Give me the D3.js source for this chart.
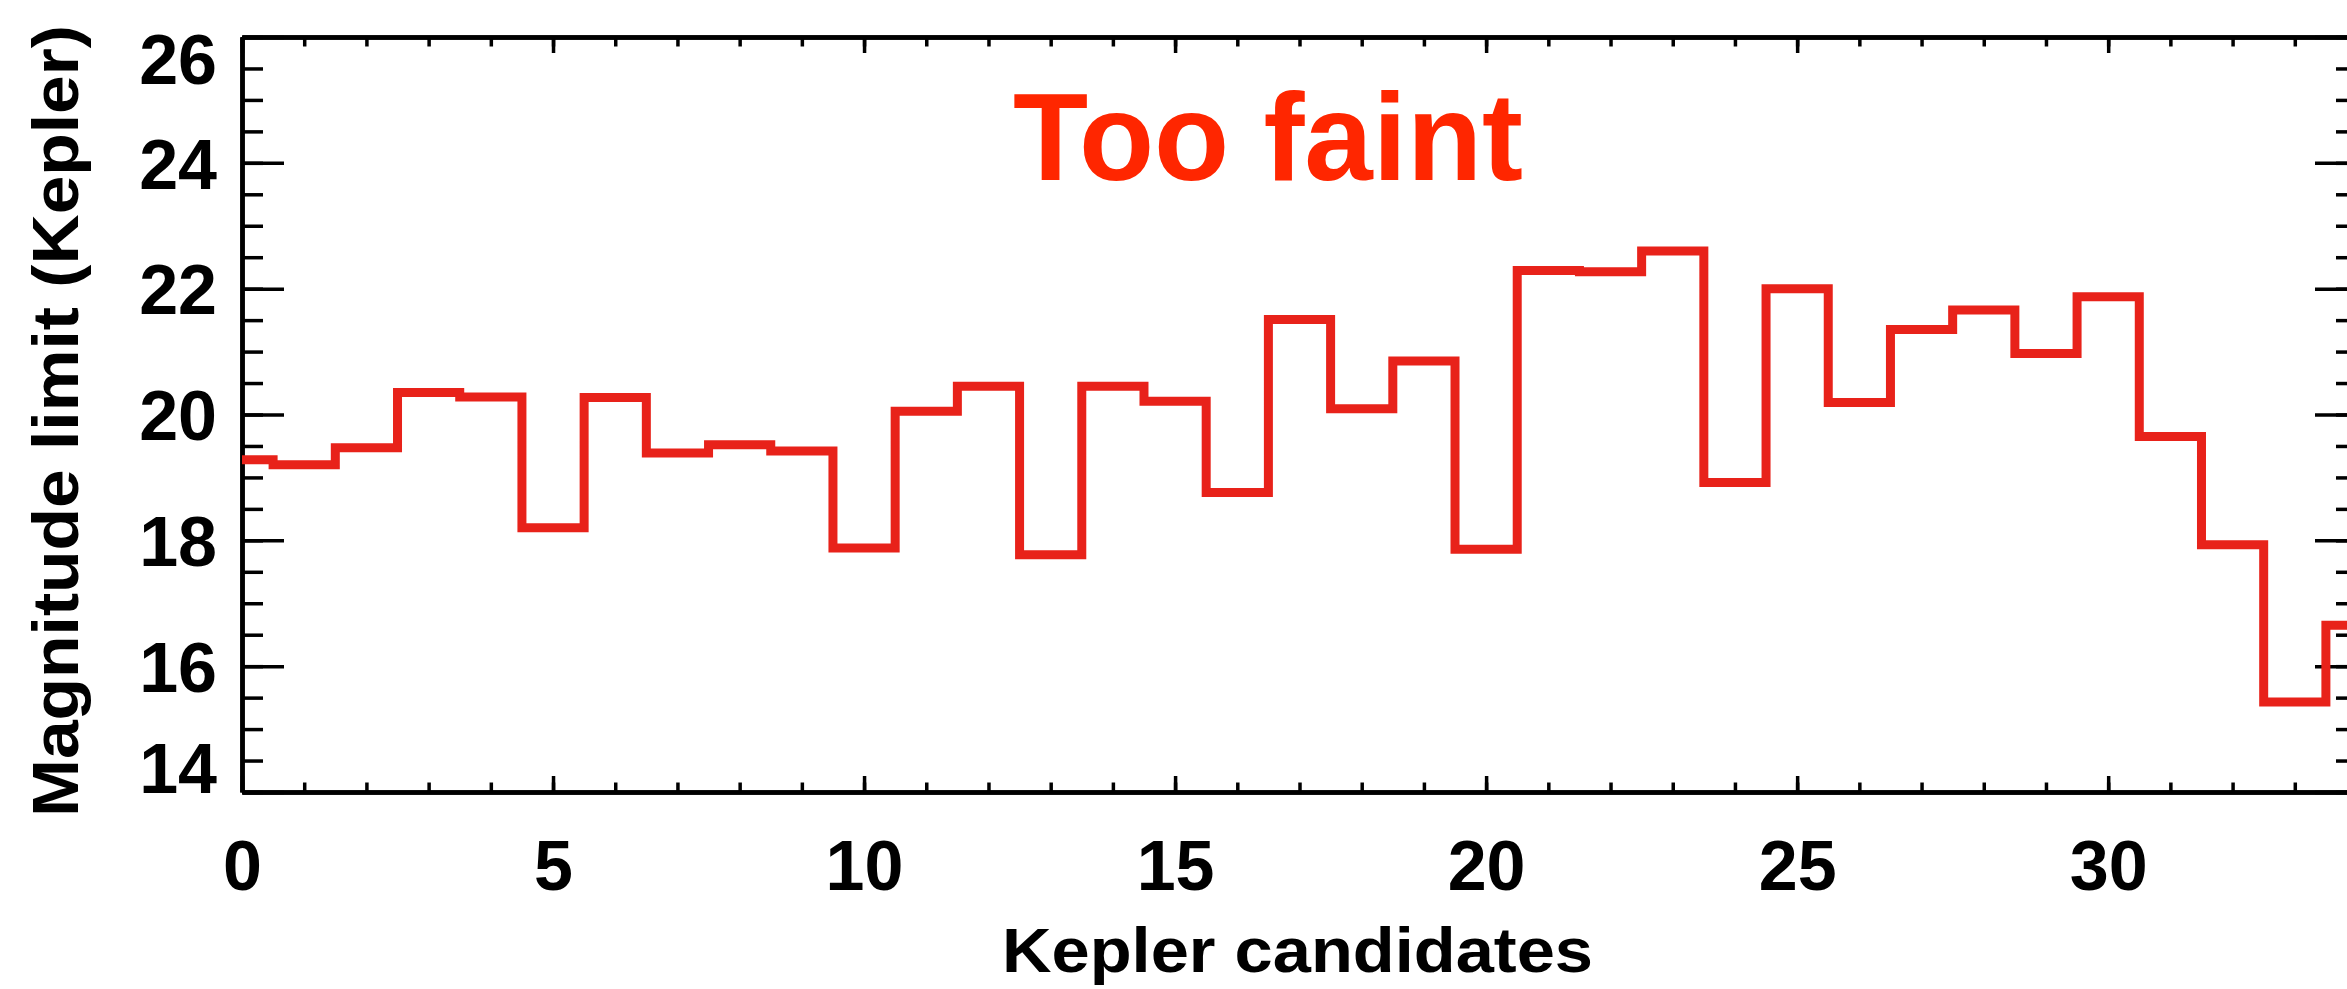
<!DOCTYPE html>
<html>
<head>
<meta charset="utf-8">
<script src="https://cdn.jsdelivr.net/npm/d3@7"></script>
<style>
  body { margin: 0; background: #fff; }
  svg { display: block; }
  .axis path, .axis line { stroke: #000; }
  .axis path { stroke-width: 4.5; }
  .axis line { stroke-width: 3.5; }
  .axis text { font-family: "Liberation Sans", Arial, sans-serif; font-weight: bold; font-size: 70px; fill: #000; }
</style>
</head>
<body>
<script>
// magnitude limit per Kepler candidate
var candidates = d3.range(0, 35)
var magLimit = [19.28, 19.20, 19.47, 20.35, 20.28, 18.20, 20.27, 19.39, 19.52, 19.42,
                17.88, 20.05, 20.45, 17.77, 20.45, 20.21, 18.76, 21.51, 20.09, 20.85,
                17.86, 22.29, 22.27, 22.60, 18.92, 22.00, 20.19, 21.35, 21.66, 20.97,
                21.87, 19.65, 17.93, 15.43, 16.65]
var xTicks = [0, 5, 10, 15, 20, 25, 30]
var xMinor = d3.range(0, 35)
var yTicks = [14, 16, 18, 20, 22, 24, 26]
var yMinor = d3.range(14, 26.01, 0.5)

var W = 2347, H = 989
// note: "top" is taken by window.top, so prefix everything
var plotL = 242, plotR = 2357, plotT = 37, plotB = 792

var svg = d3.select("body").append("svg")
  .attr("width", W)
  .attr("height", H)

var x = d3.scaleLinear().domain([0, 34]).range([plotL, plotR])
var y = d3.scaleLinear().domain([14, 26]).range([plotB, plotT])

// bottom axis, ticks pointing inwards
svg.append("g").attr("class", "axis")
  .attr("transform", "translate(0," + plotB + ")")
  .call(d3.axisBottom(x).tickValues(xMinor).tickSize(-9.5).tickSizeOuter(0).tickFormat(""))
svg.append("g").attr("class", "axis")
  .attr("transform", "translate(0," + plotB + ")")
  .call(d3.axisBottom(x).tickValues(xTicks).tickSize(-16).tickSizeOuter(0).tickPadding(48))

// top axis
svg.append("g").attr("class", "axis")
  .attr("transform", "translate(0," + plotT + ")")
  .call(d3.axisTop(x).tickValues(xMinor).tickSize(-9.5).tickSizeOuter(0).tickFormat(""))
svg.append("g").attr("class", "axis")
  .attr("transform", "translate(0," + plotT + ")")
  .call(d3.axisTop(x).tickValues(xTicks).tickSize(-16).tickSizeOuter(0).tickFormat(""))

// left axis
svg.append("g").attr("class", "axis")
  .attr("transform", "translate(" + plotL + ",0)")
  .call(d3.axisLeft(y).tickValues(yMinor).tickSize(-21).tickSizeOuter(0).tickFormat(""))
var yAx = svg.append("g").attr("class", "axis")
  .attr("transform", "translate(" + plotL + ",0)")
  .call(d3.axisLeft(y).tickValues(yTicks).tickSize(-42).tickSizeOuter(0).tickPadding(25))

// end labels sit inside the frame like in the original
yAx.selectAll(".tick text")
  .attr("dy", function (d) {
    if (d == 26) return "0.66em"
    if (d == 14) return "0.01em"
    return "0.36em"
  })

// right axis
svg.append("g").attr("class", "axis")
  .attr("transform", "translate(" + plotR + ",0)")
  .call(d3.axisRight(y).tickValues(yMinor).tickSize(-21).tickSizeOuter(0).tickFormat(""))
svg.append("g").attr("class", "axis")
  .attr("transform", "translate(" + plotR + ",0)")
  .call(d3.axisRight(y).tickValues(yTicks).tickSize(-42).tickSizeOuter(0).tickFormat(""))

// histogram as a step line
var line = d3.line()
  .x(function (d, i) { return x(candidates[i]) })
  .y(function (d) { return y(d) })
  .curve(d3.curveStep)

svg.append("path")
  .datum(magLimit)
  .attr("d", line)
  .attr("fill", "none")
  .attr("stroke", "#e8221a")
  .attr("stroke-width", 9)

// axis titles
svg.append("text")
  .attr("x", 1002)
  .attr("y", 972)
  .attr("textLength", 591)
  .attr("lengthAdjust", "spacingAndGlyphs")
  .style("font-family", "'Liberation Sans', Arial, sans-serif")
  .style("font-weight", "bold")
  .style("font-size", "63px")
  .text("Kepler candidates")

svg.append("text")
  .attr("transform", "translate(78,817) rotate(-90)")
  .attr("textLength", 792)
  .attr("lengthAdjust", "spacingAndGlyphs")
  .style("font-family", "'Liberation Sans', Arial, sans-serif")
  .style("font-weight", "bold")
  .style("font-size", "64px")
  .text("Magnitude limit (Kepler)")

// annotation
svg.append("text")
  .attr("x", 1013)
  .attr("y", 180)
  .attr("textLength", 510)
  .attr("lengthAdjust", "spacingAndGlyphs")
  .style("font-family", "'Liberation Sans', Arial, sans-serif")
  .style("font-weight", "bold")
  .style("font-size", "124px")
  .style("fill", "#ff2600")
  .text("Too faint")
</script>
</body>
</html>
